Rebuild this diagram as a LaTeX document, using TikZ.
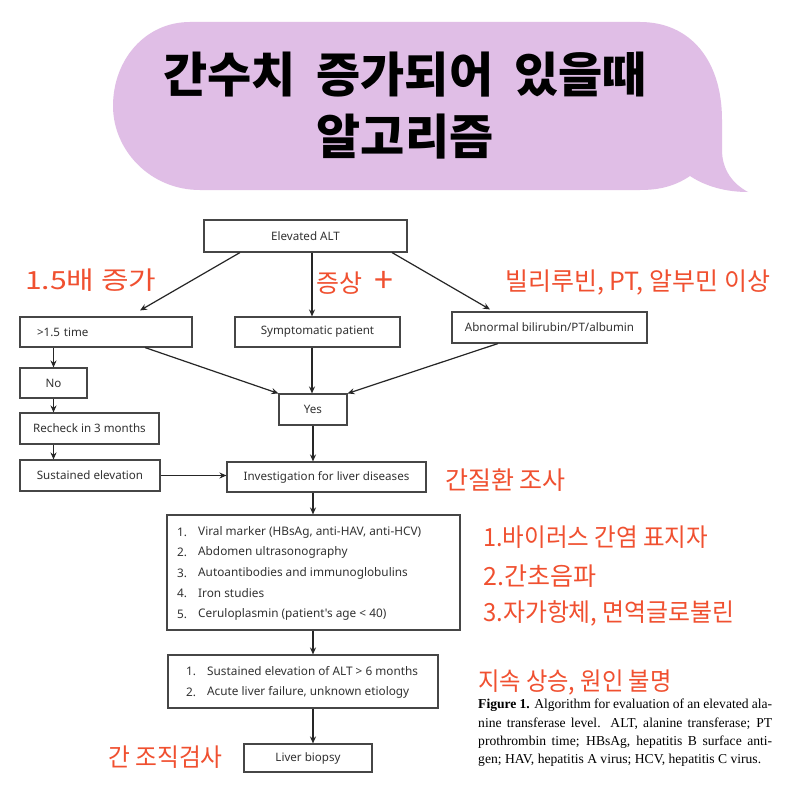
\documentclass[tikz,border=0pt]{standalone}
\usepackage{fontspec}
\usetikzlibrary{arrows.meta}
\newfontfamily\kr{Noto Sans CJK KR}
\newfontfamily\krblack{Noto Sans CJK KR Black}
\newfontfamily\flowf{Noto Sans}
\setmainfont{Liberation Serif}
\definecolor{bub}{RGB}{224,190,230}
\definecolor{hand}{RGB}{240,80,48}
\definecolor{boxline}{RGB}{70,70,70}
\definecolor{boxtext}{RGB}{50,50,50}
\tikzset{
  box/.style={draw=boxline, line width=1.1pt, rectangle, inner sep=0pt,
    font=\flowf\fontsize{11.6}{13}\selectfont, text=boxtext},
  item/.style={inner sep=0pt, anchor=west, font=\flowf\fontsize{11.8}{13}\selectfont, text=boxtext},
  arr/.style={-{Stealth[length=7pt,width=6pt]}, line width=1.2pt, draw=black!85},
  redlbl/.style={text=hand, font=\kr\fontsize{25}{28}\selectfont, inner sep=0pt, anchor=west},
}
\begin{document}
\begin{tikzpicture}[x=1pt,y=-1pt]
\useasboundingbox (0,0) rectangle (800,800);
\fill[white] (0,0) rectangle (800,800);
% speech bubble
\fill[bub] (190,22) -- (640,22) .. controls (690,22) and (722,60) .. (722,120)
  -- (722,150) .. controls (722,170) and (733,184) .. (748,192)
  .. controls (725,192) and (705,186) .. (690,176)
  .. controls (675,186) and (660,190) .. (640,190) -- (200,190)
  .. controls (150,190) and (113,150) .. (113,106)
  .. controls (113,60) and (145,22) .. (190,22) -- cycle;
\node[font=\krblack\fontsize{48}{62}\selectfont, align=center, inner sep=0pt] (title) at (405,106)
  {간수치\hspace{10pt} 증가되어\hspace{10pt} 있을때\\알고리즘};

% boxes
\node[box, minimum width=203, minimum height=32] (alt) at (305.5,236) {Elevated ALT};
\node[box, minimum width=172, minimum height=30, text width=138, align=left] (gt) at (106,332) {>1.5 time};
\node[box, minimum width=165, minimum height=30] (sym) at (317.5,332) {Symptomatic patient};
\node[box, minimum width=195, minimum height=31] (abn) at (549.5,327.5) {Abnormal bilirubin/PT/albumin};
\node[box, minimum width=67, minimum height=30] (no) at (53.5,383) {No};
\node[box, minimum width=68, minimum height=31] (yes) at (313,409.5) {Yes};
\node[box, minimum width=139, minimum height=31] (rc) at (89.5,428.5) {Recheck in 3 months};
\node[box, minimum width=140, minimum height=31] (se) at (90,475.5) {Sustained elevation};
\node[box, minimum width=199, minimum height=30] (inv) at (326.5,477) {Investigation for liver diseases};
\node[box, minimum width=293, minimum height=115] (lst) at (313.5,572.5) {};
\node[box, minimum width=270, minimum height=53] (l2) at (303,681.5) {};
\node[box, minimum width=128, minimum height=28] (bio) at (308,758) {Liver biopsy};

% list items
\node[item] (n1) at (177,532) {1.};
\node[item] (t1) at (198,532) {Viral marker (HBsAg, anti-HAV, anti-HCV)};
\node[item] (n2) at (177,552.5) {2.};
\node[item] (t2) at (198,552.5) {Abdomen ultrasonography};
\node[item] (n3) at (177,573) {3.};
\node[item] (t3) at (198,573) {Autoantibodies and immunoglobulins};
\node[item] (n4) at (177,593.5) {4.};
\node[item] (t4) at (198,593.5) {Iron studies};
\node[item] (n5) at (177,614) {5.};
\node[item] (t5) at (198,614) {Ceruloplasmin (patient's age < 40)};
\node[item] (m1) at (186,671) {1.};
\node[item] (u1) at (207,671) {Sustained elevation of ALT > 6 months};
\node[item] (m2) at (186,692) {2.};
\node[item] (u2) at (207,692) {Acute liver failure, unknown etiology};

% arrows
\draw[arr] ([xshift=-65.5pt]alt.south) -- ([xshift=34pt,yshift=6pt]gt.north);
\draw[arr] ([xshift=6.5pt]alt.south) -- ([xshift=-5.5pt]sym.north);
\draw[arr] ([xshift=86.5pt]alt.south) -- ([xshift=-59.5pt,yshift=2pt]abn.north);
\draw[arr] ([xshift=39pt]gt.south) -- (yes.north west);
\draw[arr] ([xshift=-5.5pt]sym.south) -- ([xshift=-1pt]yes.north);
\draw[arr] ([xshift=-51.5pt]abn.south) -- (yes.north east);
\draw[arr] ([xshift=-52.5pt]gt.south) -- (no.north);
\draw[arr] (no.south) -- ([xshift=-36pt]rc.north);
\draw[arr] ([xshift=-36pt]rc.south) -- ([xshift=-36.5pt]se.north);
\draw[arr] (se.east) -- (se.east -| inv.west);
\draw[arr] (yes.south) -- (yes.south |- inv.north);
\draw[arr] ([xshift=-13.5pt]inv.south) -- ([xshift=-0.5pt]lst.north);
\draw[arr] ([xshift=-0.5pt]lst.south) -- ([xshift=10pt]l2.north);
\draw[arr] ([xshift=10pt]l2.south) -- ([xshift=5pt]bio.north);

% red handwritten labels
\node[redlbl] (r1) at (25,280) {\scalebox{1.2}[1]{1.5배 증가}};
\node[redlbl] (r2) at (316,283) {증상\hspace{7pt} {\fontsize{34}{34}\selectfont +}};
\node[redlbl] (r3) at (505,283) {빌리루빈, PT, 알부민 이상};
\node[redlbl] (r4) at (445,480) {간질환 조사};
\node[redlbl] (r5) at (483,537) {\scalebox{0.94}[1]{1.바이러스 간염 표지자}};
\node[redlbl] (r6) at (483,576) {2.간초음파};
\node[redlbl] (r7) at (483,613) {\scalebox{0.955}[1]{3.자가항체, 면역글로불린}};
\node[redlbl] (r8) at (478,683) {\scalebox{0.93}[1]{지속 상승, 원인 불명}};
\node[redlbl] (r9) at (108,757) {\scalebox{0.95}[1]{간 조직검사}};

% caption
\node[anchor=north west, align=left, inner sep=0pt, font=\fontsize{13.6}{18.3}\selectfont] (cap) at (478,699)
 {\makebox[294pt][s]{\textbf{Figure 1.} Algorithm for evaluation of an elevated ala-}\\
  \makebox[294pt][s]{nine transferase level. ALT, alanine transferase; PT}\\
  \makebox[294pt][s]{prothrombin time; HBsAg, hepatitis B surface anti-}\\
  gen; HAV, hepatitis A virus; HCV, hepatitis C virus.};
\end{tikzpicture}
\end{document}
